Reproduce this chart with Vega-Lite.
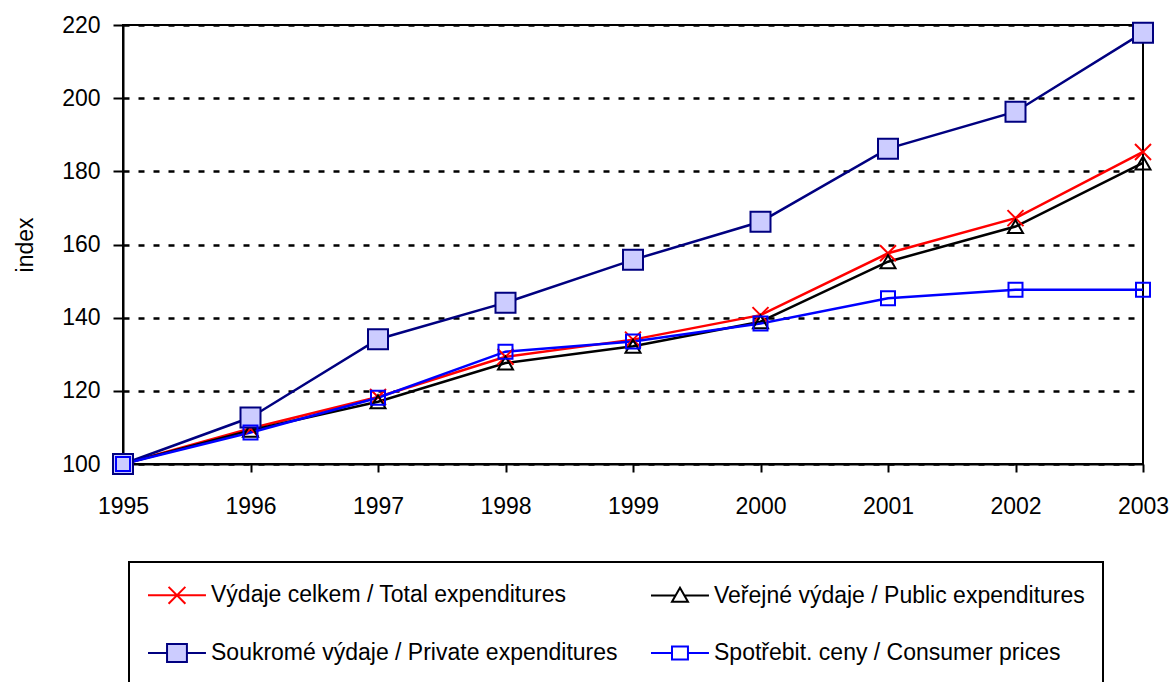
{
  "$schema": "https://vega.github.io/schema/vega-lite/v6.json",
  "width": 1020,
  "height": 439,
  "autosize": {"type": "none"},
  "padding": {"left": 123, "top": 25, "right": 28, "bottom": 218},
  "background": "white",
  "config": {
    "font": "Liberation Sans",
    "view": {"stroke": "black", "strokeWidth": 2}
  },
  "data": {
    "values": [
      {"year": 1995, "series": "Výdaje celkem / Total expenditures", "value": 100},
      {"year": 1996, "series": "Výdaje celkem / Total expenditures", "value": 109.7},
      {"year": 1997, "series": "Výdaje celkem / Total expenditures", "value": 118.3},
      {"year": 1998, "series": "Výdaje celkem / Total expenditures", "value": 129.3},
      {"year": 1999, "series": "Výdaje celkem / Total expenditures", "value": 134.0},
      {"year": 2000, "series": "Výdaje celkem / Total expenditures", "value": 140.7},
      {"year": 2001, "series": "Výdaje celkem / Total expenditures", "value": 157.6},
      {"year": 2002, "series": "Výdaje celkem / Total expenditures", "value": 167.2},
      {"year": 2003, "series": "Výdaje celkem / Total expenditures", "value": 185.3},
      {"year": 1995, "series": "Veřejné výdaje / Public expenditures", "value": 100},
      {"year": 1996, "series": "Veřejné výdaje / Public expenditures", "value": 109.2},
      {"year": 1997, "series": "Veřejné výdaje / Public expenditures", "value": 117.0},
      {"year": 1998, "series": "Veřejné výdaje / Public expenditures", "value": 127.6},
      {"year": 1999, "series": "Veřejné výdaje / Public expenditures", "value": 132.2},
      {"year": 2000, "series": "Veřejné výdaje / Public expenditures", "value": 138.9},
      {"year": 2001, "series": "Veřejné výdaje / Public expenditures", "value": 155.3},
      {"year": 2002, "series": "Veřejné výdaje / Public expenditures", "value": 164.9},
      {"year": 2003, "series": "Veřejné výdaje / Public expenditures", "value": 182.3},
      {"year": 1995, "series": "Soukromé výdaje / Private expenditures", "value": 100},
      {"year": 1996, "series": "Soukromé výdaje / Private expenditures", "value": 112.7},
      {"year": 1997, "series": "Soukromé výdaje / Private expenditures", "value": 134.1},
      {"year": 1998, "series": "Soukromé výdaje / Private expenditures", "value": 144.1},
      {"year": 1999, "series": "Soukromé výdaje / Private expenditures", "value": 155.8},
      {"year": 2000, "series": "Soukromé výdaje / Private expenditures", "value": 166.2},
      {"year": 2001, "series": "Soukromé výdaje / Private expenditures", "value": 186.2},
      {"year": 2002, "series": "Soukromé výdaje / Private expenditures", "value": 196.3},
      {"year": 2003, "series": "Soukromé výdaje / Private expenditures", "value": 217.9},
      {"year": 1995, "series": "Spotřebit. ceny / Consumer prices", "value": 100},
      {"year": 1996, "series": "Spotřebit. ceny / Consumer prices", "value": 108.6},
      {"year": 1997, "series": "Spotřebit. ceny / Consumer prices", "value": 118.1},
      {"year": 1998, "series": "Spotřebit. ceny / Consumer prices", "value": 130.7},
      {"year": 1999, "series": "Spotřebit. ceny / Consumer prices", "value": 133.5},
      {"year": 2000, "series": "Spotřebit. ceny / Consumer prices", "value": 138.4},
      {"year": 2001, "series": "Spotřebit. ceny / Consumer prices", "value": 145.3},
      {"year": 2002, "series": "Spotřebit. ceny / Consumer prices", "value": 147.6},
      {"year": 2003, "series": "Spotřebit. ceny / Consumer prices", "value": 147.6}
    ]
  },
  "encoding": {
    "x": {
      "field": "year",
      "type": "quantitative",
      "scale": {"domain": [1995, 2003], "nice": false, "zero": false},
      "axis": {
        "title": null,
        "values": [1995, 1996, 1997, 1998, 1999, 2000, 2001, 2002, 2003],
        "format": "d",
        "grid": false,
        "labelFontSize": 23,
        "labelColor": "black",
        "labelPadding": 23,
        "labelFlush": false,
        "labelOverlap": false,
        "labelBound": false,
        "tickSize": 8,
        "tickWidth": 2,
        "tickColor": "black",
        "domainColor": "black",
        "domainWidth": 2
      }
    },
    "y": {
      "field": "value",
      "type": "quantitative",
      "scale": {"domain": [100, 220], "nice": false, "zero": false},
      "axis": {
        "title": "index",
        "titleFontSize": 23,
        "titleFontWeight": "normal",
        "titleColor": "black",
        "titleAngle": -90,
        "titleX": -91,
        "titleY": 219.5,
        "titleAlign": "center",
        "titleBaseline": "alphabetic",
        "values": [100, 120, 140, 160, 180, 200, 220],
        "labelFontSize": 23,
        "labelColor": "black",
        "labelPadding": 13,
        "labelFlush": false,
        "labelOverlap": false,
        "labelBound": false,
        "tickSize": 10,
        "tickWidth": 2,
        "tickColor": "black",
        "domainColor": "black",
        "domainWidth": 2,
        "grid": true,
        "gridColor": "black",
        "gridOpacity": 1,
        "gridWidth": 2.5,
        "gridDash": [6, 9]
      }
    }
  },
  "layer": [
    {
      "mark": {"type": "line", "strokeWidth": 2.5},
      "encoding": {
        "stroke": {
          "field": "series",
          "type": "nominal",
          "scale": {
            "domain": ["Výdaje celkem / Total expenditures", "Veřejné výdaje / Public expenditures", "Soukromé výdaje / Private expenditures", "Spotřebit. ceny / Consumer prices"],
            "range": ["#FF0000", "#000000", "#000080", "#0000FF"]
          },
          "legend": {
            "title": null,
            "orient": "none",
            "direction": "horizontal",
            "legendX": 6,
            "legendY": 537,
            "columns": 2,
            "gridAlign": "all",
            "padding": 18,
            "strokeColor": "black",
            "symbolSize": 784,
            "labelOffset": 34,
            "labelFontSize": 23,
            "labelFont": "Liberation Sans",
            "labelColor": "black",
            "labelLimit": 1000,
            "rowPadding": 30,
            "columnPadding": 29,
            "encode": {
              "legend": {"update": {"strokeWidth": {"value": 2}}},
              "symbols": {
                "update": {
                  "shape": {"signal": "datum.value === 'Výdaje celkem / Total expenditures' ? 'M-1,0H3.14M0.47,-0.6L1.67,0.6M0.47,0.6L1.67,-0.6' : datum.value === 'Veřejné výdaje / Public expenditures' ? 'M-1,0H0.76M1.38,0H3.14M1.07,-0.55L1.64,0.45H0.5Z' : datum.value === 'Soukromé výdaje / Private expenditures' ? 'M-1,0H0.36M1.78,0H3.14M0.36,-0.64H1.78V0.64H0.36Z' : 'M-1,0H0.5M1.64,0H3.14M0.5,-0.46H1.64V0.46H0.5Z'"},
                  "fill": {"signal": "datum.value === 'Soukromé výdaje / Private expenditures' ? '#CCCCFF' : 'transparent'"},
                  "stroke": {"signal": "datum.value === 'Výdaje celkem / Total expenditures' ? '#FF0000' : datum.value === 'Veřejné výdaje / Public expenditures' ? '#000000' : datum.value === 'Soukromé výdaje / Private expenditures' ? '#000080' : '#0000FF'"},
                  "size": {"value": 784},
                  "strokeWidth": {"value": 2},
                  "opacity": {"value": 1}
                }
              }
            }
          }
        }
      }
    },
    {
      "transform": [{"filter": "datum.series === 'Výdaje celkem / Total expenditures'"}],
      "mark": {"type": "point", "shape": "M-1,-1L1,1M-1,1L1,-1", "size": 256, "stroke": "#FF0000", "fill": "transparent", "strokeWidth": 2, "opacity": 1}
    },
    {
      "transform": [{"filter": "datum.series === 'Veřejné výdaje / Public expenditures'"}],
      "mark": {"type": "point", "shape": "triangle-up", "size": 225, "stroke": "#000000", "fill": "transparent", "strokeWidth": 2, "opacity": 1}
    },
    {
      "transform": [{"filter": "datum.series === 'Soukromé výdaje / Private expenditures'"}],
      "mark": {"type": "point", "shape": "square", "size": 400, "stroke": "#000080", "fill": "#CCCCFF", "strokeWidth": 2, "opacity": 1}
    },
    {
      "transform": [{"filter": "datum.series === 'Spotřebit. ceny / Consumer prices'"}],
      "mark": {"type": "point", "shape": "square", "size": 196, "stroke": "#0000FF", "fill": "transparent", "strokeWidth": 2, "opacity": 1}
    }
  ]
}
